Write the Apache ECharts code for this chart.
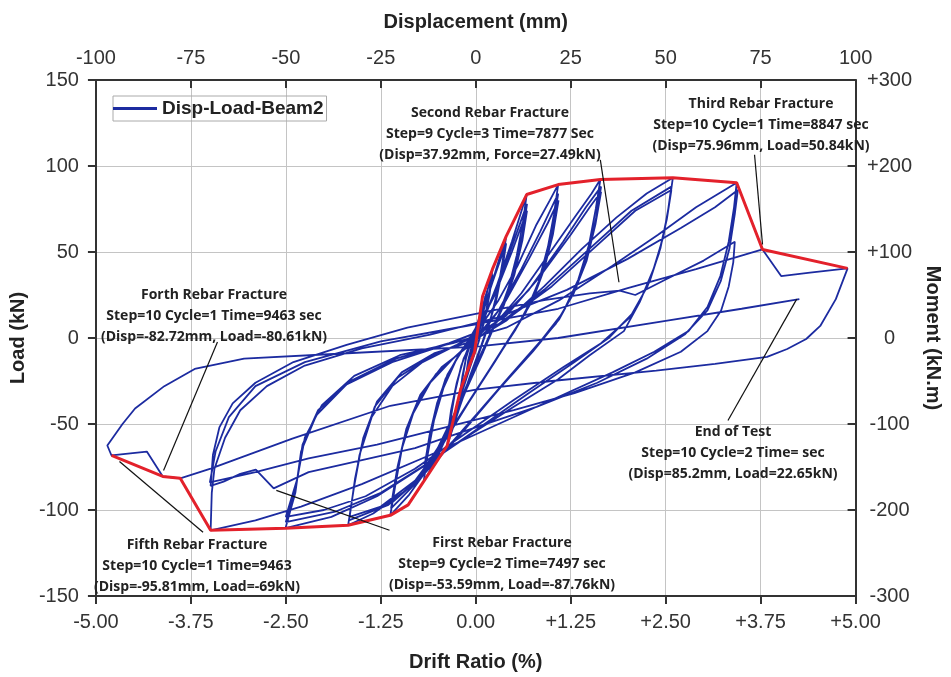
<!DOCTYPE html>
<html>
<head>
<meta charset="utf-8">
<script src="https://cdn.jsdelivr.net/npm/echarts@6/dist/echarts.min.js"></script>
<style>html,body{margin:0;padding:0;background:#fff}#c{width:951px;height:677px}</style>
</head>
<body>
<div id="c"></div>
<script>
// ---- data: [displacement (mm), load (kN)] ----
const step1 = [[0,0],[0.6,6],[1.2,12],[0.9,7],[0.2,0],[-0.6,-6],[-1.2,-11],[-0.9,-6],[-0.2,0],[0.6,6],[1.2,11],[0.9,6],[0.2,0],[-0.6,-5],[-1.2,-10],[-0.8,-5]];
const step2 = [[0,1],[1.2,12],[2.5,24],[2.0,16],[1.0,5],[-0.5,-7],[-1.5,-15],[-2.5,-23],[-2.0,-15],[-1.0,-5],[0.5,6],[1.5,14],[2.5,22],[2.0,14],[1.0,4],[-0.5,-7],[-1.5,-14],[-2.5,-21],[-2.0,-13],[-1.0,-4]];
const step3 = [[0.5,4],[2.5,22],[4.4,40],[3.7,28],[2.5,13],[0.8,-2],[-1.5,-17],[-3.4,-30],[-4.2,-36],[-3.6,-25],[-2.6,-12],[-1,0],[1,12],[2.8,26],[4.4,37],[3.6,25],[2.3,10],[0.5,-4],[-1.8,-18],[-4.2,-33],[-3.5,-22],[-2.4,-10]];
const step4 = [[-0.8,0],[1.5,12],[4,30],[6.2,46],[8,59],[7.1,45],[5.8,28],[4,12],[1.5,-4],[-1.5,-22],[-4.5,-42],[-7.5,-62.5],[-6.7,-48],[-5.4,-31],[-3.8,-16],[-1.5,-3],[1.5,13],[4.5,33],[8,55],[7,40],[5.5,23],[3.5,8],[1,-8],[-2,-26],[-5,-45],[-7.5,-58],[-6.5,-42],[-5,-26],[-3.2,-12]];
const step5 = [[-1,-2],[2,10],[5.5,30],[9.5,56],[13.4,83.4],[12.4,67],[10.8,48],[8.6,29],[5.5,10],[2,-8],[-2.5,-30],[-7,-54],[-10.5,-71],[-13.7,-83.4],[-12.6,-67],[-11,-48],[-8.5,-29],[-5,-12],[-1,2],[3.5,19],[8.5,47],[13.5,78],[12.4,61],[10.6,42],[8,23],[4.5,6],[0.5,-14],[-4,-37],[-9,-62],[-13.6,-79],[-12.4,-61],[-10.6,-42],[-8,-24],[-4,-8],[0.5,6],[5,25],[9.5,50],[13.5,74],[12.3,57],[10.2,37],[7.4,19],[4,3],[-0.5,-18],[-5,-41],[-10,-64],[-13.6,-76],[-12.2,-57],[-10.2,-38],[-7.4,-21]];
const step6 = [[-3.5,-7],[1,6],[6,22],[11,42],[16,66],[19.5,80],[21.7,89.2],[20.6,72],[19,53],[16.6,33],[13.2,15],[8,-3],[2,-24],[-5,-48],[-12,-74],[-17.5,-91],[-22.5,-103.1],[-21.2,-86],[-19.4,-64],[-16.5,-44],[-12,-26],[-6,-12],[0,0],[6,16],[12,40],[17,62],[21.7,84],[20.4,65],[18.4,45],[15.6,26],[11.5,9],[5,-14],[-2,-38],[-9,-63],[-16,-85],[-22.3,-99],[-20.9,-80],[-18.8,-58],[-15.5,-38],[-10.5,-21],[-4,-8],[2,4],[8,22],[14,46],[19,67],[21.8,80],[20.3,60],[18,40],[15,22],[10.5,5],[4,-17],[-3,-41],[-10,-65],[-17,-86],[-22.2,-96],[-20.6,-75],[-18.3,-53],[-14.6,-33],[-9,-17]];
const step7 = [[-2,-5],[5,8],[12,26],[19,48],[26,70],[30.5,84],[32.8,92.1],[31.6,75],[29.8,54],[27,34],[23,15],[17,-2],[9,-22],[0,-45],[-9,-68],[-18,-88],[-27,-102],[-33.6,-108.9],[-32.3,-90],[-30.6,-68],[-27.4,-46],[-22,-28],[-14,-14],[-5,-4],[5,8],[14,28],[23,56],[29,76],[33,88],[31.7,70],[29.6,49],[26.4,29],[22,11],[15,-8],[6,-30],[-4,-56],[-14,-80],[-23,-97],[-33.4,-106],[-32,-86],[-30,-62],[-26.6,-40],[-20.5,-23],[-12,-11],[-2,-1],[8,13],[17,36],[25,60],[30,76],[33,85],[31.5,66],[29.2,45],[25.8,26],[21,8],[13,-12],[4,-35],[-6,-60],[-16,-83],[-25,-98],[-33.2,-104],[-31.8,-82],[-29.6,-58],[-26,-37],[-19.5,-20],[-11,-9]];
const step8 = [[-1,-2],[8,10],[18,30],[28,52],[37,70],[45,84],[51.9,93.2],[51,79],[49.4,59],[46.8,40],[43.2,21],[39,4],[30,-10],[21.7,-24],[10,-40],[-2,-57],[-14,-75],[-26,-92],[-38,-104],[-50.1,-110.6],[-47.5,-90],[-46,-66],[-42,-45],[-34,-27],[-22,-14],[-8,-4],[6,8],[18,28],[30,52],[41,74],[51.5,88],[50.5,72],[48.6,52],[45.8,33],[41.6,15],[35,0],[26,-14],[14,-32],[1,-52],[-12,-72],[-25,-90],[-37,-101],[-50,-107],[-47.3,-86],[-45.6,-62],[-41.5,-42],[-33,-25],[-21,-12],[-7,-3],[7,9],[20,30],[32,54],[42,74],[51.5,86],[50.3,69],[48.2,49],[45.2,30],[40.6,12],[33,-3],[23,-17],[10,-36],[-3,-56],[-16,-76],[-29,-92],[-40,-100],[-50,-104],[-47,-82],[-45,-58],[-40.5,-39],[-32,-22],[-20,-10]];
const step9 = [[-6,-3],[8,6],[22,22],[36,42],[48,60],[58,76],[64,84],[68.7,90.3],[68,76],[66.6,56],[64.4,36],[61,18],[56,4],[47,-8],[36,-20],[22,-34],[6,-50],[-12,-68],[-30,-85],[-46,-98],[-58,-106],[-69.8,-111.8],
  [-69.5,-90],[-68.8,-76],[-66,-58],[-62,-42],[-55,-28],[-45,-16],[-30,-6],[-12,2],[6,12],[24,28],[40,46],[54,64],[63,76],[69,86],
  [68.2,72],[66.8,52],[64.5,33],[61,16],[55,2],[45,-12],[32,-26],[16,-40],[0,-52],[-16,-64],[-32,-72],[-44,-78],[-53.2,-87.4],[-57.9,-76.5],[-62,-79],[-66.4,-83.5],[-69.8,-86],
  [-69.2,-68],[-67.5,-52],[-64,-38],[-58,-26],[-48,-14],[-34,-4],[-18,6],[0,14],[18,22],[30,26],[37.9,27.5],[42,25],[50,34],[60,45],[68.2,56],
  [67.8,44],[66.6,30],[64.6,16],[61,4],[54,-8],[42,-20],[26,-32],[10,-42],[-8,-52],[-26,-62],[-44,-70],[-58,-78],[-70,-84]];
const step10 = [[-68.5,-66],[-65,-46],[-58,-28],[-45,-14],[-25,-2],[0,8],[21.7,17],[40,29],[58,40],[75.5,51.5],[80.4,36],[88,38],[97.9,40.5],[94.8,22.6],[90.7,7],[87,-0.6],[82,-6.4],[76.7,-11],[63,-15],[47.5,-19],[20,-25],[0,-30],[-22.5,-39.4],[-48.3,-58.5],[-69.8,-75.9],[-77.8,-81.6],[-82.4,-80.5],[-86.6,-66],[-95.9,-68.3],[-97,-62.5],[-93,-50],[-89.7,-41],[-82,-28],[-74,-18],[-61,-12],[-35,-9],[0,-5],[21.7,0],[50,10],[70,17],[85.2,22.65]];
const envelope = [[-95.9,-68.3],[-82.4,-80.5],[-77.8,-81.6],[-69.8,-111.8],[-50.1,-110.6],[-33.6,-108.9],[-22.5,-103.1],[-17.8,-97],[-13.7,-83.4],[-7.5,-62.5],[-4,-30],[-0.3,-8],[1.8,24.3],[4.4,40],[8,59.1],[13.4,83.4],[21.7,89.2],[32.8,92.1],[51.9,93.2],[68.7,90.3],[75.5,51.5],[97.9,40.5]];

// annotation arrows: [from, to] in [displacement, load]
const arrows = [
  [[32.8,103.6],[37.7,32.4]],
  [[73.4,106.5],[75.5,54.4]],
  [[-68,-2.3],[-82.2,-77]],
  [[-71.8,-112.9],[-93.8,-71.8]],
  [[-22.7,-111.8],[-52.5,-88.6]],
  [[66.4,-48],[84.5,22.6]]
];
const notes = [
  {lines:['Second Rebar Fracture','Step=9 Cycle=3 Time=7877 Sec','(Disp=37.92mm, Force=27.49kN)'], x:490, y:113},
  {lines:['Third Rebar Fracture','Step=10 Cycle=1 Time=8847 sec','(Disp=75.96mm, Load=50.84kN)'], x:761, y:104},
  {lines:['Forth Rebar Fracture','Step=10 Cycle=1 Time=9463 sec','(Disp=-82.72mm, Load=-80.61kN)'], x:214, y:295},
  {lines:['Fifth Rebar Fracture','Step=10 Cycle=1 Time=9463','(Disp=-95.81mm, Load=-69kN)'], x:197, y:545},
  {lines:['First Rebar Fracture','Step=9 Cycle=2 Time=7497 sec','(Disp=-53.59mm, Load=-87.76kN)'], x:502, y:543},
  {lines:['End of Test','Step=10 Cycle=2 Time= sec','(Disp=85.2mm, Load=22.65kN)'], x:733, y:432}
];

const blue = [].concat(step1, step2, step3, step4, step5, step6, step7, step8, step9, step10);

const tickFont = {fontFamily:'"Liberation Sans", Arial, sans-serif', fontSize:20, color:'#333'};
const nameFont = {fontFamily:'"Liberation Sans", Arial, sans-serif', fontSize:20, fontWeight:'bold', color:'#222'};
const axisLine = {show:true, onZero:false, lineStyle:{color:'#333', width:2}};

const graphics = [];
notes.forEach(n => {
  n.lines.forEach((t, i) => {
    graphics.push({type:'text', x:n.x, y:n.y + i*21, z:100,
      style:{text:t, textAlign:'center', textVerticalAlign:'middle',
        font:'bold 14px "Open Sans", sans-serif', fill:'#222'}});
  });
});

const chart = echarts.init(document.getElementById('c'), null, {renderer:'canvas'});
chart.setOption({
  animation:false,
  backgroundColor:'#fff',
  grid:{left:89, right:88, top:80, bottom:79},
  legend:{
    data:[{name:'Disp-Load-Beam2', icon:'rect'}], left:113, top:96,
    itemWidth:44, itemHeight:3,
    borderColor:'#aaa', borderWidth:1, padding:[3,3,3,0],
    textStyle:{fontFamily:'"Liberation Sans", Arial, sans-serif', fontSize:19, fontWeight:'bold', color:'#222'}
  },
  xAxis:[
    {type:'value', position:'bottom', min:-5, max:5, interval:1.25,
     name:'Drift Ratio (%)', nameLocation:'middle', nameGap:56, nameTextStyle:nameFont,
     axisLine:axisLine, axisTick:{show:true, inside:false, length:8, lineStyle:{color:'#333', width:2}},
     axisLabel:Object.assign({margin:16, formatter:v => (v>0?'+':'') + v.toFixed(2)}, tickFont),
     splitLine:{show:true, lineStyle:{color:'#c4c4c4', width:1}}},
    {type:'value', position:'top', min:-100, max:100, interval:25,
     name:'Displacement (mm)', nameLocation:'middle', nameGap:48, nameTextStyle:nameFont,
     axisLine:axisLine, axisTick:{show:true, inside:true, length:8, lineStyle:{color:'#333', width:2}},
     axisLabel:Object.assign({margin:12}, tickFont),
     splitLine:{show:false}}
  ],
  yAxis:[
    {type:'value', position:'left', min:-150, max:150, interval:50,
     name:'Load (kN)', nameLocation:'middle', nameGap:58, nameTextStyle:nameFont,
     axisLine:axisLine, axisTick:{show:true, inside:false, length:8, lineStyle:{color:'#333', width:2}},
     axisLabel:Object.assign({margin:17}, tickFont),
     splitLine:{show:true, lineStyle:{color:'#c4c4c4', width:1}}},
    {type:'value', position:'right', min:-300, max:300, interval:100,
     name:'Moment (kN.m)', nameLocation:'middle', nameGap:67, nameRotate:-90, nameTextStyle:nameFont,
     axisLine:axisLine, axisTick:{show:true, inside:true, length:8, lineStyle:{color:'#333', width:2}},
     axisLabel:Object.assign({margin:34, align:'center', formatter:v => (v>0?'+':'') + v}, tickFont),
     splitLine:{show:false}}
  ],
  series:[
    {name:'Disp-Load-Beam2', type:'line', xAxisIndex:1, yAxisIndex:0, data:blue,
     symbol:'none', showSymbol:false, smooth:false,
     lineStyle:{color:'#1c2ba0', width:1.8}, itemStyle:{color:'#1c2ba0'}, z:2},
    {name:'Envelope', type:'line', xAxisIndex:1, yAxisIndex:0, data:envelope,
     symbol:'none', showSymbol:false,
     lineStyle:{color:'#e3212b', width:3}, itemStyle:{color:'#e3212b'}, z:3},
    {name:'arrows', type:'line', xAxisIndex:1, yAxisIndex:0, data:[], symbol:'none', z:5,
     markLine:{silent:true, symbol:['none','arrow'], symbolSize:[0,10], label:{show:false},
       lineStyle:{color:'#111', width:1.2, type:'solid'},
       data: arrows.map(a => [{coord:a[0]},{coord:a[1]}])}}
  ],
  graphic: graphics
});
</script>
</body>
</html>
